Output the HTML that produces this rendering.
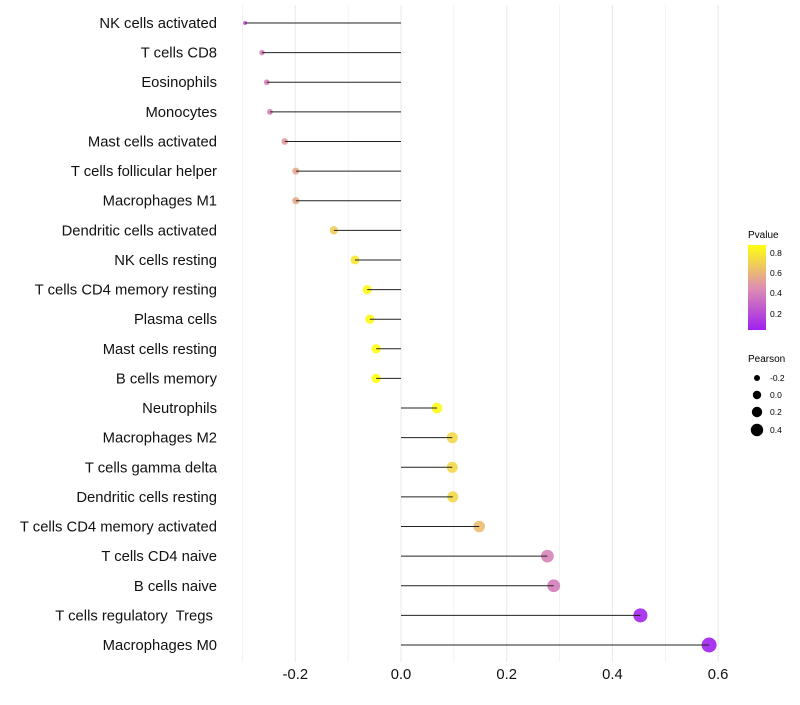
<!DOCTYPE html>
<html><head><meta charset="utf-8"><style>
body{margin:0;background:#fff;font-family:"Liberation Sans",sans-serif;}
svg text{font-family:"Liberation Sans",sans-serif;white-space:pre;}
</style></head><body>
<svg id="chart" width="800" height="700" xmlns="http://www.w3.org/2000/svg">
<defs><linearGradient id="pg" x1="0" y1="1" x2="0" y2="0">
<stop offset="0" stop-color="#a020f0"/><stop offset="0.5" stop-color="#df8fb0"/><stop offset="1" stop-color="#ffff10"/>
</linearGradient></defs>
<g id="grid"></g>
<g id="marks"></g>
<g id="axes"></g>
<g>
<text x="748" y="238" font-size="10">Pvalue</text>
<rect x="748" y="245" width="18" height="85" fill="url(#pg)"/>
<text x="770" y="256" font-size="8.5">0.8</text>
<text x="770" y="276" font-size="8.5">0.6</text>
<text x="770" y="296" font-size="8.5">0.4</text>
<text x="770" y="317" font-size="8.5">0.2</text>
</g>
<g>
<text x="748" y="362" font-size="10">Pearson</text>
<circle cx="757" cy="378" r="3" fill="#000"/>
<circle cx="757" cy="395" r="4.2" fill="#000"/>
<circle cx="757" cy="412" r="5.2" fill="#000"/>
<circle cx="757" cy="430" r="6.2" fill="#000"/>
<text x="770" y="381" font-size="8.5">-0.2</text>
<text x="770" y="398" font-size="8.5">0.0</text>
<text x="770" y="415" font-size="8.5">0.2</text>
<text x="770" y="433" font-size="8.5">0.4</text>
</g>
</svg>
<script>
const categories=["NK cells activated","T cells CD8","Eosinophils","Monocytes","Mast cells activated","T cells follicular helper","Macrophages M1","Dendritic cells activated","NK cells resting","T cells CD4 memory resting","Plasma cells","Mast cells resting","B cells memory","Neutrophils","Macrophages M2","T cells gamma delta","Dendritic cells resting","T cells CD4 memory activated","T cells CD4 naive","B cells naive","T cells regulatory  Tregs ","Macrophages M0"];
const pearson=[-0.295,-0.263,-0.254,-0.248,-0.22,-0.199,-0.199,-0.127,-0.087,-0.064,-0.059,-0.047,-0.047,0.068,0.097,0.097,0.098,0.148,0.277,0.289,0.453,0.583];
const pvalues=[0.22,0.4,0.4,0.42,0.5,0.55,0.55,0.68,0.77,0.85,0.85,0.9,0.9,0.85,0.72,0.72,0.72,0.62,0.4,0.38,0.05,0.01];
const xTicks=[-0.2,0,0.2,0.4,0.6];
const xTickLabels=["-0.2","0.0","0.2","0.4","0.6"];
const gridVals=[-0.3,-0.2,-0.1,0,0.1,0.2,0.3,0.4,0.5,0.6];

const NS="http://www.w3.org/2000/svg";
const xs=v=>401+v*528.5;
const ys=i=>23+i*(622/21);
const rs=v=>1.5+6*Math.sqrt(Math.max(0,(v+0.3)/0.88));
function lerp(a,b,t){return a.map((c,k)=>Math.round(c+(b[k]-c)*t));}
function col(p){const lo=[160,32,240],mid=[223,143,176],hi=[255,255,16];let t=(p-0.03)/0.84;t=Math.max(0,Math.min(1,t));const c=t<0.5?lerp(lo,mid,t*2):lerp(mid,hi,(t-0.5)*2);return `rgb(${c[0]},${c[1]},${c[2]})`;}
function mk(tag,attrs,parent){const e=document.createElementNS(NS,tag);for(const k in attrs)e.setAttribute(k,attrs[k]);parent.appendChild(e);return e;}
const grid=document.getElementById('grid'),marks=document.getElementById('marks'),axes=document.getElementById('axes');
gridVals.forEach(v=>{
const major=Math.abs(Math.round(v*10))%2===0;
const l=mk('line',{x1:xs(v),x2:xs(v),y1:5,y2:662,stroke:'#ebebeb','stroke-width':major?1.1:0.6},grid);

});
categories.forEach((c,i)=>{
const y=ys(i);
const cc=mk('circle',{cx:xs(pearson[i]),cy:y,r:rs(pearson[i]),fill:col(pvalues[i]),'fill-opacity':0.9},marks);


const ln=mk('line',{x1:xs(0),x2:xs(pearson[i]),y1:y,y2:y,stroke:'#222','stroke-width':1},marks);


const t=mk('text',{x:217,y:y+5,'text-anchor':'end','font-size':14.8,fill:'#111'},axes);
t.textContent=c;


});
xTicks.forEach((v,i)=>{
const t=mk('text',{x:xs(v),y:679,'text-anchor':'middle','font-size':14.8,fill:'#111'},axes);
t.textContent=xTickLabels[i];


});
</script>
</body></html>
